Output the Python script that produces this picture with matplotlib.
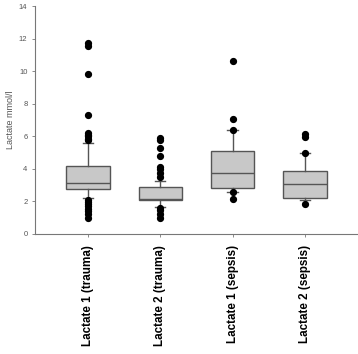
import numpy as np
import matplotlib.pyplot as plt

plt.rcParams['font.family'] = ['Liberation Sans', 'DejaVu Sans']

labels = ["Lactate 1 (trauma)", "Lactate 2 (trauma)", "Lactate 1 (sepsis)", "Lactate 2 (sepsis)"]
q1 = [2.76, 2.06, 2.82, 2.23]
med = [3.13, 2.12, 3.74, 3.05]
q3 = [4.17, 2.88, 5.08, 3.85]
whislo = [2.23, 1.65, 2.57, 2.06]
whishi = [5.59, 3.27, 6.37, 4.97]
fliers = [
    [11.7, 11.55, 9.8, 7.3, 6.23, 6.1, 6.0, 5.86, 5.75, 2.06, 1.95, 1.82, 1.7, 1.55, 1.4, 1.24, 1.0],
    [5.92, 5.8, 5.3, 4.77, 4.1, 4.0, 3.77, 3.5, 1.6, 1.49, 1.24, 1.0],
    [10.6, 7.09, 6.37, 2.57, 2.12],
    [6.17, 5.96, 4.97, 1.86],
]

stats = []
for i in range(len(labels)):
    stats.append(dict(label=labels[i], q1=q1[i], med=med[i], q3=q3[i],
                      whislo=whislo[i], whishi=whishi[i], fliers=fliers[i]))

fig = plt.figure(figsize=(3.58, 3.54), dpi=100)
ax = fig.add_axes([0.098, 0.339, 0.899, 0.644])

edge = "#555555"
ax.bxp(stats, positions=[1, 2, 3, 4], widths=0.6, capwidths=0.14,
       patch_artist=True,
       boxprops=dict(facecolor="#c8c8c8", edgecolor=edge, linewidth=1.0),
       medianprops=dict(color=edge, linewidth=1.0),
       whiskerprops=dict(color=edge, linewidth=1.0),
       capprops=dict(color=edge, linewidth=1.0),
       flierprops=dict(marker="o", markerfacecolor="black", markeredgecolor="black",
                       markersize=4.2))

ax.set_xlim(0.27, 4.72)
ax.set_ylim(0, 14)
ax.set_yticks(np.arange(0, 15, 2))
ax.set_xticks([1, 2, 3, 4])
ax.set_xticklabels(labels, rotation=90, fontsize=8.4, fontweight="bold")
ax.tick_params(axis="y", labelsize=5.5, labelcolor="#555555", color="#777777", length=2, width=0.6)
ax.tick_params(axis="x", color="#777777", length=2, width=0.6, pad=6)
ax.set_ylabel("Lactate mmol/l", fontsize=6.5, color="#555555", labelpad=3)

for s in ["top", "right"]:
    ax.spines[s].set_visible(False)
for s in ["left", "bottom"]:
    ax.spines[s].set_color("#777777")
    ax.spines[s].set_linewidth(0.8)

fig.savefig("out.png", dpi=100)
